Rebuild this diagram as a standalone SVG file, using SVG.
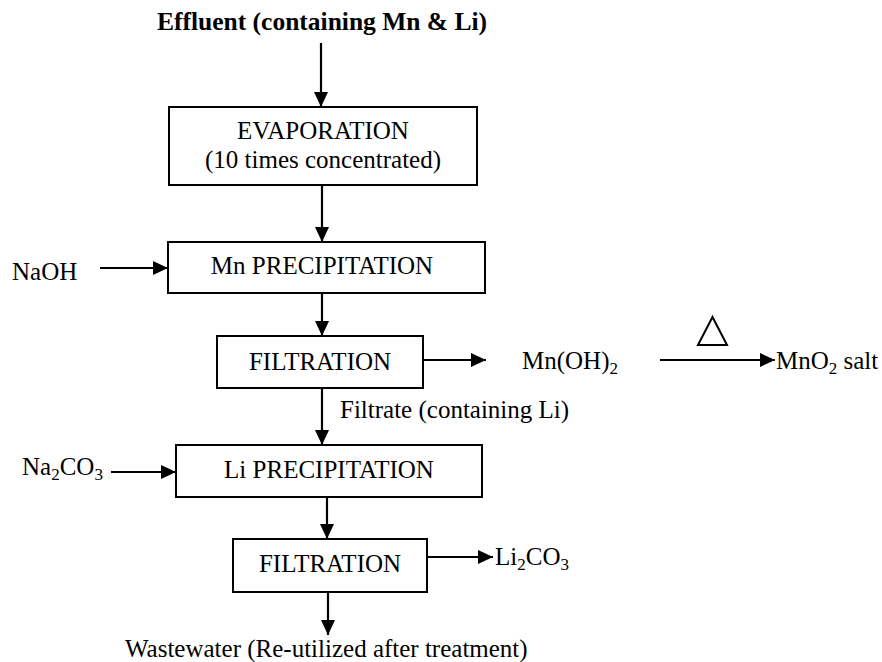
<svg xmlns="http://www.w3.org/2000/svg" width="882" height="662" viewBox="0 0 882 662">
<style>
text{font-family:"Liberation Serif","Times New Roman",serif;font-size:25px;fill:#000}
.b{font-weight:bold;font-size:25.5px}
.m{text-anchor:middle}
.box{fill:#fff;stroke:#000;stroke-width:2}
.ln{stroke:#000;stroke-width:2.2;fill:none}
.sub{font-size:17px}
</style>
<defs>
<marker id="ah" markerUnits="userSpaceOnUse" markerWidth="16" markerHeight="14" refX="15" refY="7" orient="auto">
<path d="M0,0 L15,7 L0,14 z" fill="#000"/>
</marker>
</defs>
<rect width="882" height="662" fill="#fff"/>
<g id="connectors">
<line class="ln" x1="321" y1="43" x2="321" y2="107" marker-end="url(#ah)"/>
<line class="ln" x1="322" y1="185" x2="322" y2="242" marker-end="url(#ah)"/>
<line class="ln" x1="100" y1="268" x2="168" y2="268" marker-end="url(#ah)"/>
<line class="ln" x1="322" y1="293" x2="322" y2="336" marker-end="url(#ah)"/>
<line class="ln" x1="422" y1="360" x2="486" y2="360" marker-end="url(#ah)"/>
<line class="ln" x1="660" y1="360" x2="775" y2="360" marker-end="url(#ah)"/>
<line class="ln" x1="322" y1="388" x2="322" y2="445" marker-end="url(#ah)"/>
<line class="ln" x1="111" y1="472" x2="176" y2="472" marker-end="url(#ah)"/>
<line class="ln" x1="327" y1="497" x2="327" y2="539" marker-end="url(#ah)"/>
<line class="ln" x1="427" y1="557" x2="493" y2="557" marker-end="url(#ah)"/>
<line class="ln" x1="328" y1="592" x2="328" y2="635" marker-end="url(#ah)"/>
</g>
<g id="effluent"><text class="b m" x="322" y="30">Effluent (containing Mn &amp; Li)</text></g>
<g id="evaporation">
<rect class="box" x="169" y="107" width="308" height="78"/>
<text class="m" x="323" y="139">EVAPORATION</text>
<text class="m" x="323" y="168">(10 times concentrated)</text>
</g>
<g id="naoh"><text x="12" y="280">NaOH</text></g>
<g id="mn-precipitation">
<rect class="box" x="168" y="242" width="317" height="51"/>
<text class="m" x="322" y="274">Mn PRECIPITATION</text>
</g>
<g id="filtration1">
<rect class="box" x="217" y="336" width="206" height="52"/>
<text class="m" x="320" y="370">FILTRATION</text>
</g>
<g id="mnoh2"><text x="522" y="369">Mn(OH)<tspan class="sub" dy="5">2</tspan></text></g>
<g id="heat"><polygon points="698,345 727,345 712.5,317" fill="none" stroke="#000" stroke-width="2"/></g>
<g id="mno2"><text x="776" y="369">MnO<tspan class="sub" dy="5">2</tspan><tspan dy="-5"> salt</tspan></text></g>
<g id="filtrate"><text x="340" y="418">Filtrate (containing Li)</text></g>
<g id="na2co3"><text x="22" y="475">Na<tspan class="sub" dy="5">2</tspan><tspan dy="-5">CO</tspan><tspan class="sub" dy="5">3</tspan></text></g>
<g id="li-precipitation">
<rect class="box" x="176" y="445" width="306" height="52"/>
<text class="m" x="329" y="478">Li PRECIPITATION</text>
</g>
<g id="filtration2">
<rect class="box" x="233" y="539" width="194" height="53"/>
<text class="m" x="330" y="572">FILTRATION</text>
</g>
<g id="li2co3"><text x="495" y="565">Li<tspan class="sub" dy="5">2</tspan><tspan dy="-5">CO</tspan><tspan class="sub" dy="5">3</tspan></text></g>
<g id="wastewater"><text x="125" y="657">Wastewater (Re-utilized after treatment)</text></g>
</svg>
